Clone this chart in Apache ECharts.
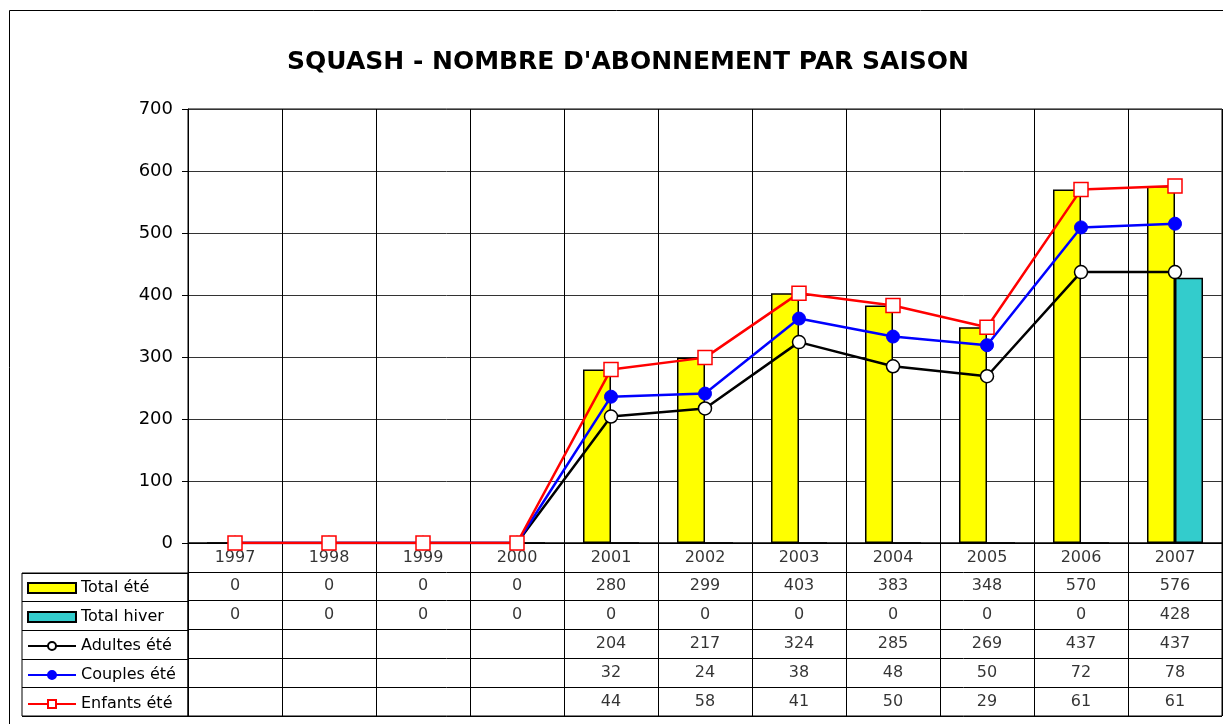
<!DOCTYPE html>
<html>
<head>
<meta charset="utf-8">
<script src="https://cdn.jsdelivr.net/npm/echarts@6/dist/echarts.min.js"></script>
<style>
  html, body { margin: 0; padding: 0; background: #fff; }
  #chart { width: 1223px; height: 724px; }
</style>
</head>
<body>
<div id="chart"></div>
<script>
// data
var years = ["1997", "1998", "1999", "2000", "2001", "2002", "2003", "2004", "2005", "2006", "2007"];
var totalEte = [0, 0, 0, 0, 280, 299, 403, 383, 348, 570, 576];
var totalHiver = [0, 0, 0, 0, 0, 0, 0, 0, 0, 0, 428];
// blank cells in the table are null, lines still sit on 0 there
var adultesEte = [null, null, null, null, 204, 217, 324, 285, 269, 437, 437];
var couplesEte = [null, null, null, null, 32, 24, 38, 48, 50, 72, 78];
var enfantsEte = [null, null, null, null, 44, 58, 41, 50, 29, 61, 61];
var rowNames = ["Total été", "Total hiver", "Adultes été", "Couples été", "Enfants été"];

var font = "DejaVu Sans, Arial, sans-serif";
var chart = echarts.init(document.getElementById("chart"));

function zeroed(arr) {
  return arr.map(function (v) { return v == null ? 0 : v; });
}

// table cells: row 0 = years, then one row per series
var tableRows = [years, totalEte, totalHiver, adultesEte, couplesEte, enfantsEte];
var cells = [];
tableRows.forEach(function (row, r) {
  row.forEach(function (v, i) {
    if (v != null) cells.push([i, r, String(v)]);
  });
});

var option = {
  animation: false,
  backgroundColor: "#fff",
  textStyle: { fontFamily: font, color: "#000" },
  title: {
    text: "SQUASH - NOMBRE D'ABONNEMENT PAR SAISON",
    left: 623,
    textAlign: "center",
    top: 45,
    textStyle: { fontFamily: font, fontSize: 25, fontWeight: "bold", color: "#000" },
  },
  graphic: [
    {
      // outer frame of the chart
      type: "rect",
      shape: { x: 9.5, y: 10.5, width: 1240, height: 740 },
      style: { fill: null, stroke: "#000", lineWidth: 1 },
      silent: true,
    },
  ],
  legend: {
    orient: "vertical",
    left: 27,
    top: 580,
    padding: 0,
    itemWidth: 48,
    itemHeight: 10,
    itemGap: 13,
    textStyle: { fontFamily: font, fontSize: 16, color: "#000" },
    data: [
      { name: "Total été", icon: "rect" },
      { name: "Total hiver", icon: "rect" },
      { name: "Adultes été" },
      { name: "Couples été" },
      { name: "Enfants été" },
    ],
  },
  grid: [
    // plot
    { left: 188, top: 109, width: 1034, height: 434, show: true, borderColor: "#000", borderWidth: 1 },
    // value table
    { left: 188, top: 543, width: 1034, height: 173, show: true, borderColor: "#000", borderWidth: 1 },
    // row headers
    { left: 22, top: 573, width: 166, height: 143, show: true, borderColor: "#000", borderWidth: 1 },
  ],
  xAxis: [
    {
      gridIndex: 0,
      type: "category",
      data: years,
      axisLine: { lineStyle: { color: "#000" } },
      axisTick: { show: false },
      axisLabel: { show: false },
      splitLine: { show: true, lineStyle: { color: "#000", width: 1 } },
    },
    {
      gridIndex: 1,
      type: "category",
      data: years,
      axisLine: { show: false },
      axisTick: { show: false },
      axisLabel: { show: false },
      splitLine: { show: true, lineStyle: { color: "#000", width: 1 } },
    },
    { gridIndex: 2, type: "value", show: false },
  ],
  yAxis: [
    {
      gridIndex: 0,
      type: "value",
      min: 0,
      max: 700,
      interval: 100,
      axisLine: { show: true, lineStyle: { color: "#000" } },
      axisTick: { show: true, length: 6, lineStyle: { color: "#000" } },
      axisLabel: { fontFamily: font, fontSize: 18, color: "#000", margin: 15 },
      splitLine: { show: true, lineStyle: { color: "#333", width: 1 } },
    },
    {
      gridIndex: 1,
      type: "category",
      inverse: true,
      data: ["an"].concat(rowNames),
      axisLine: { show: false },
      axisTick: { show: false },
      axisLabel: { show: false },
      splitLine: { show: true, lineStyle: { color: "#000", width: 1 } },
    },
    {
      gridIndex: 2,
      type: "category",
      inverse: true,
      data: rowNames,
      axisLine: { show: false },
      axisTick: { show: false },
      axisLabel: { show: false },
      splitLine: { show: true, lineStyle: { color: "#000", width: 1 } },
    },
  ],
  series: [
    {
      name: "Total été",
      type: "bar",
      data: totalEte,
      barWidth: 28,
      barGap: "0%",
      itemStyle: { color: "#ffff00", borderColor: "#000", borderWidth: 1.5 },
      z: 2,
    },
    {
      name: "Total hiver",
      type: "bar",
      data: totalHiver,
      barWidth: 28,
      barGap: "0%",
      itemStyle: { color: "#33cccc", borderColor: "#000", borderWidth: 1.5 },
      z: 2,
    },
    {
      name: "Adultes été",
      type: "line",
      stack: "ete",
      data: zeroed(adultesEte),
      symbol: "circle",
      symbolSize: 13,
      showAllSymbol: true,
      lineStyle: { color: "#000", width: 2.5 },
      itemStyle: { color: "#fff", borderColor: "#000", borderWidth: 1.5 },
      z: 5,
    },
    {
      name: "Couples été",
      type: "line",
      stack: "ete",
      data: zeroed(couplesEte),
      symbol: "circle",
      symbolSize: 13,
      showAllSymbol: true,
      lineStyle: { color: "#0000ff", width: 2.5 },
      itemStyle: { color: "#0000ff", borderColor: "#0000ff", borderWidth: 1 },
      z: 6,
    },
    {
      name: "Enfants été",
      type: "line",
      stack: "ete",
      data: zeroed(enfantsEte),
      symbol: "rect",
      symbolSize: 14,
      showAllSymbol: true,
      lineStyle: { color: "#ff0000", width: 2.5 },
      itemStyle: { color: "#fff", borderColor: "#ff0000", borderWidth: 1.5 },
      z: 7,
    },
    {
      name: "table",
      type: "scatter",
      xAxisIndex: 1,
      yAxisIndex: 1,
      data: cells,
      symbolSize: 1,
      itemStyle: { color: "rgba(0,0,0,0)" },
      silent: true,
      label: {
        show: true,
        position: "inside",
        formatter: function (p) { return p.value[2]; },
        fontFamily: font,
        fontSize: 16,
        color: "#000",
      },
    },
  ],
};

chart.setOption(option);
</script>
</body>
</html>
